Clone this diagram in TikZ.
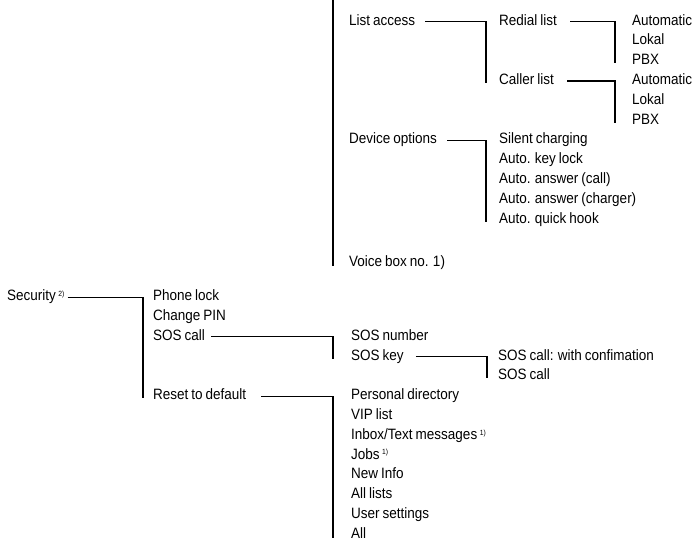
\documentclass[tikz,border=0pt]{standalone}
\usepackage{fontspec}
\setmainfont[FakeStretch=0.9, WordSpace=0.8]{Liberation Sans}

\newcommand{\fnmark}[1]{\,{\fontsize{7.5}{8}\selectfont\raisebox{1.05ex}{#1}}}

\begin{document}
\begin{tikzpicture}[x=1pt, y=-1pt,
    every node/.style={font=\fontsize{15}{17}\selectfont},
    item/.style={anchor=base west, inner xsep=0pt, inner ysep=0pt, text height=7pt, text depth=0pt},
    link/.style={line width=1.3pt}]

    \useasboundingbox (0,0) rectangle (696,544);

    % menu bar from above
    \coordinate (top) at (333,0);

    % list access
    \node[item] (listacc) at (349,25) {List access};
    \node[item] (redial) at (499,25) {Redial list};
    \node[item] (caller) at (499,84.4) {Caller list};
    \node[item] (rauto) at (632,25) {Automatic};
    \node[item] (rlokal) at (632,44.8) {Lokal};
    \node[item] (rpbx) at (632,64.6) {PBX};
    \node[item] (cauto) at (632,84.4) {Automatic};
    \node[item] (clokal) at (632,104.2) {Lokal};
    \node[item] (cpbx) at (632,124) {PBX};

    % device options
    \node[item] (devopt) at (349,143.8) {Device options};
    \node[item] (silent) at (499,143.8) {Silent charging};
    \node[item] (keylock) at (499,163.6) {Auto. key lock};
    \node[item] (anscall) at (499,183.4) {Auto. answer (call)};
    \node[item] (anscharger) at (499,203.2) {Auto. answer (charger)};
    \node[item] (hook) at (499,223) {Auto. quick hook};

    % voice box
    \node[item] (voicebox) at (349,266.7) {Voice box no. 1)};

    \draw[link] (top) -- ([yshift=-3pt]top |- voicebox.west);
    \draw[link] ([xshift=10pt]listacc.east) -| ([xshift=-13pt, yshift=-2pt]caller.west);
    \draw[link] ([xshift=13pt]redial.east) -| ([xshift=-17pt, yshift=-2pt]rpbx.west);
    \draw[link] ([xshift=13pt]caller.east) -| ([xshift=-17pt, yshift=-2pt]cpbx.west);
    \draw[link] ([xshift=10pt]devopt.east) -| ([xshift=-13pt, yshift=-2pt]hook.west);

    % security
    \node[item] (security) at (7,300.7) {Security\fnmark{2)}};
    \node[item] (phonelock) at (153,300.7) {Phone lock};
    \node[item] (changepin) at (153,320.5) {Change PIN};
    \node[item] (soscall) at (153,340.3) {SOS call};
    \node[item] (reset) at (153,399.7) {Reset to default};

    % sos call
    \node[item] (sosnumber) at (351,340.3) {SOS number};
    \node[item] (soskey) at (351,360.1) {SOS key};
    \node[item] (sosconfirm) at (498,360.1) {SOS call: with confimation};
    \node[item] (sosplain) at (498,379.9) {SOS call};

    % reset to default
    \node[item] (personal) at (351,399.7) {Personal directory};
    \node[item] (viplist) at (351,419.5) {VIP list};
    \node[item] (inbox) at (351,439.3) {Inbox/Text messages\fnmark{1)}};
    \node[item] (jobs) at (351,459.1) {Jobs\fnmark{1)}};
    \node[item] (newinfo) at (351,478.9) {New Info};
    \node[item] (alllists) at (351,498.7) {All lists};
    \node[item] (usersettings) at (351,518.5) {User settings};
    \node[item] (all) at (351,538.3) {All};

    \draw[link] ([xshift=3pt]security.east) -| ([xshift=-10pt, yshift=-2pt]reset.west);
    \draw[link] ([xshift=6pt]soscall.east) -| ([xshift=-18pt, yshift=-2pt]soskey.west);
    \draw[link] ([xshift=12pt]soskey.east) -| ([xshift=-11pt, yshift=-2pt]sosplain.west);
    \draw[link] ([xshift=15pt]reset.east) -| ([xshift=-18pt, yshift=-3pt]all.west);

\end{tikzpicture}
\end{document}
